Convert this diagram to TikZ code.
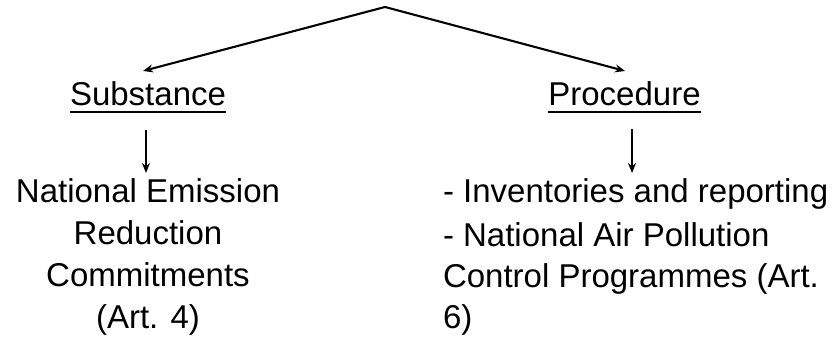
\documentclass[tikz,border=0pt]{standalone}
\usepackage{fontspec}
\setmainfont{Liberation Sans}
\usetikzlibrary{arrows.meta}
\begin{document}
\begin{tikzpicture}[x=1pt,y=-1pt,
  lbl/.style={inner sep=0pt,outer sep=0pt,font=\fontsize{33}{42}\selectfont},
  branch/.style={line width=2.1pt,-{Stealth[length=10pt,width=8pt]}},
  down/.style={line width=2pt,-{Stealth[length=10pt,width=8pt]}},
  uline/.style={line width=2.4pt}]
\useasboundingbox (0,0) rectangle (837,339);
\coordinate (top) at (385,7);
\coordinate (ltip) at (143,71);
\coordinate (rtip) at (625,71);
\node[lbl,anchor=base] (sub) at (148,106) {Substance};
\node[lbl,anchor=base] (proc) at (624.5,106) {Procedure};
\draw[uline] ([yshift=-6pt]sub.base west) -- ([yshift=-6pt]sub.base east);
\draw[uline] ([yshift=-6pt]proc.base west) -- ([yshift=-6pt]proc.base east);
\draw[branch] (top) -- (ltip);
\draw[branch] (top) -- (rtip);
\coordinate (ls) at (146,130);
\coordinate (le) at (146,173);
\coordinate (rs) at (632,129);
\coordinate (re) at (632,173);
\node[lbl,anchor=base,align=center] (nerc) at (148,328)
  {National Emission\\Reduction\\Commitments\\(Art. 4)};
\node[lbl,anchor=base west,align=left,font=\fontsize{33}{41}\selectfont] (napc) at (443,328)
  {- Inventories and reporting\\[3pt]- National Air Pollution\\Control Programmes (Art.\\6)};
\draw[down] (ls) -- (le);
\draw[down] (rs) -- (re);
\end{tikzpicture}
\end{document}
